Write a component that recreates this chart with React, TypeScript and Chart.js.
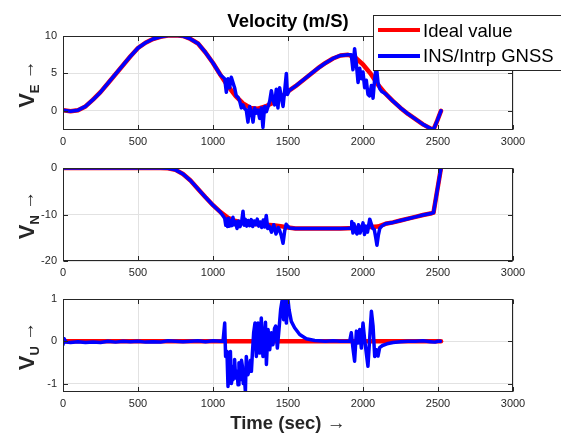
import React, { useEffect, useRef } from "react";
import { Chart, registerables } from "chart.js";
Chart.register(...registerables);

const FONT = '"Liberation Sans", Arial, Helvetica, sans-serif';

const xTicks = [0, 500, 1000, 1500, 2000, 2500, 3000];
const veTicks = [0, 5, 10];
const vnTicks = [-20, -10, 0];
const vuTicks = [-1, 0, 1];

// ---- East velocity ----
const idealVE_t = [0, 50, 100, 150, 200, 250, 300, 350, 400, 450, 500, 550, 600, 650, 700, 750, 800, 850, 900, 950, 1000, 1050, 1100, 1150, 1200, 1250, 1300, 1350, 1400, 1450, 1500, 1550, 1600, 1650, 1700, 1750, 1800, 1850, 1900, 1950, 2000, 2050, 2100, 2150, 2200, 2250, 2300, 2350, 2400, 2450, 2470, 2495, 2520];
const idealVE = [0.1, -0.05, 0.1, 0.6, 1.5, 2.5, 3.7, 4.9, 6.1, 7.3, 8.4, 9.1, 9.6, 9.9, 10.05, 10.1, 10.0, 9.6, 9.0, 7.8, 6.4, 4.8, 3.3, 2.0, 1.0, 0.4, 0.3, 0.6, 1.1, 1.8, 2.6, 3.3, 4.1, 4.9, 5.7, 6.4, 7.0, 7.4, 7.5, 7.1, 6.2, 5.0, 3.5, 2.3, 1.3, 0.4, -0.4, -1.1, -1.8, -2.35, -2.5, -1.3, 0.0];
const insVE_t = [0, 50, 100, 150, 200, 250, 300, 350, 400, 450, 500, 550, 600, 650, 700, 750, 800, 850, 900, 950, 1000, 1050,
  1078, 1089, 1100, 1111, 1122, 1133, 1144, 1155, 1167, 1178, 1189, 1200, 1211, 1222, 1233, 1244, 1256, 1267, 1278, 1289, 1300, 1311, 1322, 1333, 1344, 1356, 1367, 1378, 1389, 1400, 1411, 1422, 1433, 1444, 1456, 1467, 1478, 1489, 1496, 1507,
  1550, 1600, 1650, 1700, 1750, 1800, 1850, 1900,
  1922, 1933, 1944, 1956, 1967, 1978, 1989, 2000, 2011, 2022, 2033, 2044, 2056, 2067, 2078, 2089, 2100, 2111, 2125,
  2150, 2200, 2250, 2300, 2350, 2400, 2450, 2470, 2495, 2520];
const insVE = [0.1, -0.05, 0.1, 0.6, 1.5, 2.5, 3.7, 4.9, 6.1, 7.3, 8.4, 9.1, 9.6, 9.9, 10.05, 10.1, 10.0, 9.6, 9.0, 7.8, 6.4, 4.8,
  4.3, 2.5, 4.3, 3.1, 4.5, 3.8, 3.1, 2.0, 1.8, 1.3, 0.4, 0.8, 0.3, 0.1, -1.5, 0.6, -0.1, -1.5, 0.4, -0.3, 0.1, -1.0, 0.4, -2.2, 0.6, -0.1, 0.6, 1.3, 2.7, 1.5, 0.8, 2.9, 0.4, 3.1, 1.8, 0.6, 2.7, 5.0, 2.2, 2.7,
  3.3, 4.1, 4.9, 5.7, 6.4, 7.0, 7.4, 7.5,
  7.5, 5.5, 8.3, 6.2, 3.8, 5.7, 4.3, 5.2, 3.1, 4.1, 2.2, 2.0, 3.4, 1.7, 4.3, 6.0, 3.8, 3.0, 2.6,
  2.3, 1.3, 0.4, -0.4, -1.1, -1.8, -2.35, -2.5, -1.3, 0.0];

// ---- North velocity ----
const idealVN_t = [0, 100, 200, 300, 400, 500, 600, 650, 700, 750, 800, 850, 900, 950, 1000, 1050, 1100, 1150, 1200, 1250, 1300, 1350, 1400, 1450, 1500, 1550, 1600, 1650, 1700, 1750, 1800, 1850, 1900, 1950, 2000, 2050, 2100, 2150, 2200, 2250, 2300, 2350, 2400, 2450, 2470, 2520];
const idealVN = [0, 0, 0, 0, 0, 0, 0, 0, -0.05, -0.4, -1.3, -2.7, -4.5, -6.3, -8.0, -9.5, -10.7, -11.4, -11.8, -12.0, -12.1, -12.2, -12.3, -12.5, -12.8, -13.0, -13.0, -13.0, -13.0, -13.0, -13.0, -13.0, -12.95, -12.9, -12.8, -12.7, -12.6, -12.0, -11.7, -11.3, -10.9, -10.5, -10.1, -9.8, -9.6, 0];
const insVN_t = [0, 100, 200, 300, 400, 500, 600, 650, 700, 750, 800, 850, 900, 950, 1000, 1050,
  1078, 1085, 1090, 1097, 1103, 1110, 1117, 1125, 1133, 1140, 1150, 1160, 1170, 1180, 1190, 1200, 1208, 1215, 1225, 1235, 1245, 1255, 1265, 1275, 1285, 1295, 1305, 1315, 1325, 1335, 1345, 1355, 1365, 1375, 1390, 1405, 1420, 1435, 1445, 1455, 1467, 1478, 1488, 1500, 1510,
  1550, 1600, 1650, 1700, 1750, 1800, 1850, 1900,
  1920, 1925, 1933, 1940, 1950, 1960, 1970, 1980, 1990, 2000, 2010, 2020, 2030, 2045, 2055, 2065, 2075, 2085, 2093, 2102, 2112, 2125,
  2150, 2200, 2250, 2300, 2350, 2400, 2450, 2470, 2520];
const insVN = [0, 0, 0, 0, 0, 0, 0, 0, -0.05, -0.4, -1.3, -2.7, -4.5, -6.3, -8.0, -9.5,
  -10.8, -12.3, -11.0, -12.6, -10.8, -12.5, -11.3, -12.4, -10.6, -12.2, -11.5, -13.0, -11.4, -12.6, -11.8, -9.3, -12.3, -11.0, -12.5, -11.3, -12.4, -11.1, -12.6, -11.4, -12.2, -11.0, -12.5, -11.6, -12.8, -11.2, -12.7, -10.2, -13.0, -12.5, -13.8, -12.2, -14.2, -12.8, -13.5, -14.5, -16.2, -13.5, -12.1, -12.6, -12.9,
  -13.0, -13.0, -13.0, -13.0, -13.0, -13.0, -13.0, -12.95,
  -12.9, -11.5, -14.0, -12.0, -13.5, -14.2, -12.2, -14.0, -13.0, -11.8, -14.3, -12.5, -13.8, -11.0, -12.0, -13.0, -13.2, -15.0, -16.6, -14.5, -13.0, -12.5,
  -12.0, -11.7, -11.3, -10.9, -10.5, -10.1, -9.8, -9.6, 0];

// ---- Up velocity ----
const idealVU_t = [0, 500, 1000, 1500, 2000, 2500, 2520];
const idealVU = [0, 0, 0, 0, 0, 0, 0];
const insVU_t = [0, 8, 20, 50, 100, 150, 200, 250, 300, 350, 400, 450, 500, 550, 600, 650, 700, 750, 800, 850, 900, 950, 1000, 1050, 1067,
  1078, 1084, 1093, 1100, 1107, 1116, 1122, 1127, 1133, 1140, 1144, 1151, 1160, 1167, 1173, 1182, 1190, 1196, 1202, 1207, 1216, 1222, 1233, 1244, 1250, 1256, 1262, 1271, 1280, 1289, 1300, 1311, 1322, 1333, 1344, 1350, 1356, 1367, 1378, 1389, 1400, 1410, 1418, 1429, 1440, 1451, 1460, 1471, 1480, 1489, 1498, 1507, 1522, 1544, 1578, 1622, 1678, 1750, 1800, 1850, 1900, 1911,
  1922, 1933, 1944, 1956, 1967, 1978, 1989, 2000, 2011, 2022, 2033, 2044, 2056, 2067, 2078, 2089, 2100, 2111, 2130, 2160, 2200, 2250, 2300, 2350, 2400, 2450, 2480, 2500, 2516];
const insVU = [-0.08, 0.06, -0.02, -0.03, -0.01, -0.03, -0.02, -0.03, 0.0, -0.02, 0.0, -0.01, 0.0, -0.02, -0.01, -0.02, 0.01, 0.0, -0.01, 0.0, 0.01, -0.01, 0.01, 0.0, 0.0,
  0.43, -0.36, -0.24, -1.07, -0.6, -0.24, -1.0, -0.91, -0.59, -0.85, -0.43, -0.87, -0.71, -1.03, -0.51, -0.91, -0.45, -0.59, -1.0, -0.75, -1.19, -0.36, -0.79, -0.63, -0.45, -0.71, -0.32, 0.2, 0.43, -0.36, 0.43, -0.28, 0.55, -0.36, 0.12, 0.45, -0.55, 0.28, -0.2, 0.2, -0.08, 0.3, 0.36, -0.16, 0.28, 0.75, 0.95, 0.51, 0.99, 0.43, 1.05, 0.75, 0.47, 0.32, 0.16, 0.06, 0.02, 0.0, 0.01, 0.0, 0.0, 0.0,
  0.2, -0.16, -0.47, 0.24, -0.04, 0.28, -0.16, 0.43, 0.04, -0.28, -0.59, 0.04, 0.71, 0.36, -0.36, -0.2, -0.35, -0.15, -0.1, -0.06, -0.03, -0.01, 0.0, 0.0, 0.01, -0.01, -0.02, 0.0, 0.0];

const legendLabels = ["Ideal value", "INS/Intrp GNSS"];
const seriesColors = ["#ff0000", "#0000ff"];

const framePlugin = {
  id: "matlabFrame",
  afterDraw(chart: any) {
    const { ctx, chartArea: a, scales } = chart;
    ctx.save();
    ctx.strokeStyle = "#262626";
    ctx.lineWidth = 1;
    const L = Math.round(a.left) + 0.5, R = Math.round(a.right) - 0.5;
    const T = Math.round(a.top) + 0.5, B = Math.round(a.bottom) - 0.5;
    ctx.strokeRect(L, T, R - L, B - T);
    const len = 4.5;
    ctx.beginPath();
    for (const t of scales.x.ticks) {
      const px = Math.round(scales.x.getPixelForValue(t.value)) + 0.5;
      ctx.moveTo(px, B); ctx.lineTo(px, B - len);
      ctx.moveTo(px, T); ctx.lineTo(px, T + len);
    }
    for (const t of scales.y.ticks) {
      const py = Math.round(scales.y.getPixelForValue(t.value)) + 0.5;
      ctx.moveTo(L, py); ctx.lineTo(L + len, py);
      ctx.moveTo(R, py); ctx.lineTo(R - len, py);
    }
    ctx.stroke();
    ctx.restore();
  },
};

function pts(t: number[], v: number[]) {
  return t.map((x, i) => ({ x, y: v[i] }));
}

type PanelProps = {
  top: number; height: number; padTop: number; xAxisH: number;
  yMin: number; yMax: number; yTicks: number[];
  it: number[]; iv: number[]; nt: number[]; nv: number[];
};

function Panel(p: PanelProps) {
  const ref = useRef<HTMLCanvasElement>(null);
  useEffect(() => {
    const tickFont = { family: FONT, size: 11 };
    const chart = new Chart(ref.current as HTMLCanvasElement, {
      type: "line",
      data: {
        datasets: [
          { label: legendLabels[0], data: pts(p.it, p.iv), borderColor: seriesColors[0], backgroundColor: seriesColors[0], borderWidth: 4.5, pointRadius: 0, tension: 0, order: 2, fill: false, borderJoinStyle: "round", borderCapStyle: "round" },
          { label: legendLabels[1], data: pts(p.nt, p.nv), borderColor: seriesColors[1], backgroundColor: seriesColors[1], borderWidth: 3.5, pointRadius: 0, tension: 0, order: 1, fill: false, borderJoinStyle: "round", borderCapStyle: "round" },
        ],
      },
      options: {
        animation: false,
        responsive: false,
        devicePixelRatio: 1,
        layout: { padding: { top: p.padTop, right: 48, left: 0, bottom: 0 } },
        plugins: { legend: { display: false }, tooltip: { enabled: false }, title: { display: false } },
        scales: {
          x: {
            type: "linear", min: 0, max: 3000,
            afterBuildTicks: (s: any) => { s.ticks = xTicks.map((v) => ({ value: v })); },
            afterFit: (s: any) => { s.height = p.xAxisH; },
            grid: { color: "#e2e2e2", drawTicks: false },
            border: { display: false },
            ticks: { padding: 5, color: "#262626", font: tickFont, maxRotation: 0, autoSkip: false, callback: (v: any) => String(v) },
          },
          y: {
            type: "linear", min: p.yMin, max: p.yMax,
            afterBuildTicks: (s: any) => { s.ticks = p.yTicks.map((v) => ({ value: v })); },
            afterFit: (s: any) => { s.width = 63; },
            grid: { color: "#e2e2e2", drawTicks: false },
            border: { display: false },
            ticks: { padding: 6, color: "#262626", font: tickFont, callback: (v: any) => String(v) },
          },
        },
      },
      plugins: [framePlugin],
    } as any);
    return () => chart.destroy();
  }, []);
  return (
    <canvas ref={ref} width={561} height={p.height}
      style={{ position: "absolute", left: 0, top: p.top, width: 561, height: p.height }} />
  );
}

function YLabel({ cy, sub }: { cy: number; sub: string }) {
  return (
    <div style={{ position: "absolute", left: 27, top: cy, transform: "translate(-50%,-50%) rotate(-90deg)", whiteSpace: "nowrap", fontFamily: FONT, color: "#262626", lineHeight: 1 }}>
      <span style={{ fontWeight: "bold", fontSize: 22 }}>V</span>
      <span style={{ fontWeight: "bold", fontSize: 13, position: "relative", top: 5 }}>{sub}</span>
      <span style={{ fontSize: 19 }}>{"\u00a0\u2192"}</span>
    </div>
  );
}

export default function App() {
  return (
    <div style={{ position: "fixed", left: 0, top: 0, width: 561, height: 433, background: "#fff", overflow: "hidden" }}>
      <Panel top={0} height={150} padTop={36} xAxisH={20} yMin={-2.55} yMax={10} yTicks={veTicks} it={idealVE_t} iv={idealVE} nt={insVE_t} nv={insVE} />
      <Panel top={150} height={130} padTop={18} xAxisH={19} yMin={-20} yMax={0} yTicks={vnTicks} it={idealVN_t} iv={idealVN} nt={insVN_t} nv={insVN} />
      <Panel top={280} height={153} padTop={19} xAxisH={41} yMin={-1.2} yMax={1} yTicks={vuTicks} it={idealVU_t} iv={idealVU} nt={insVU_t} nv={insVU} />

      <div style={{ position: "absolute", left: 288, top: 21, transform: "translate(-50%,-50%)", whiteSpace: "nowrap", fontFamily: FONT, fontWeight: "bold", fontSize: 18.5, color: "#000", lineHeight: 1 }}>
        Velocity (m/S)
      </div>

      <YLabel cy={84} sub="E" />
      <YLabel cy={215} sub="N" />
      <YLabel cy={346} sub="U" />

      <div style={{ position: "absolute", left: 288, top: 423, transform: "translate(-50%,-50%)", whiteSpace: "nowrap", fontFamily: FONT, color: "#262626", lineHeight: 1 }}>
        <span style={{ fontWeight: "bold", fontSize: 18.5 }}>Time (sec)</span>
        <span style={{ fontSize: 19 }}>{"\u00a0\u2192"}</span>
      </div>

      <div style={{ position: "absolute", left: 373, top: 15, width: 200, height: 56, border: "1px solid #262626", background: "#fff", boxSizing: "border-box", fontFamily: FONT, color: "#000" }}>
        <div style={{ position: "absolute", left: 4, top: 12, width: 42, height: 4, background: seriesColors[0] }} />
        <div style={{ position: "absolute", left: 4, top: 38, width: 42, height: 4, background: seriesColors[1] }} />
        <div style={{ position: "absolute", left: 49, top: 15, transform: "translateY(-50%)", fontSize: 18.5, lineHeight: 1, whiteSpace: "nowrap" }}>{legendLabels[0]}</div>
        <div style={{ position: "absolute", left: 49, top: 40, transform: "translateY(-50%)", fontSize: 18.5, lineHeight: 1, whiteSpace: "nowrap" }}>{legendLabels[1]}</div>
      </div>
    </div>
  );
}
